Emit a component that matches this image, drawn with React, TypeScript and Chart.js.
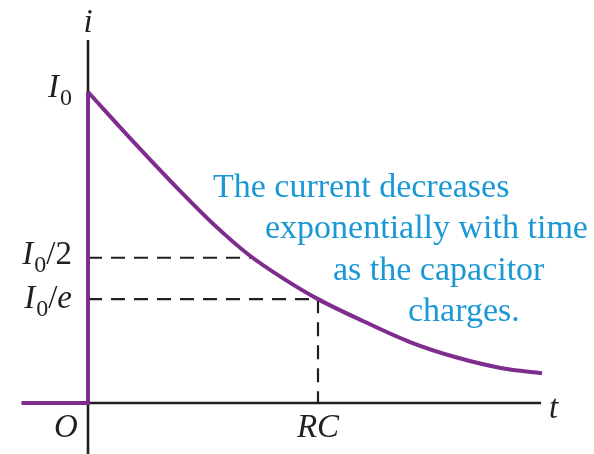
import React, { useEffect, useRef } from "react";
import { Chart, registerables } from "chart.js";

Chart.register(...registerables);

// time in units of RC, current in units of I0
const preChargeTime = [-0.289, 0, 0];
const preChargeCurrent = [0, 0, 1];

const timeRC = [0, 0.2, 0.4, 0.55, 0.7, 0.85, 1.0, 1.2, 1.4, 1.6, 1.8, 1.974];
const currentI0 = [1, 0.838, 0.682, 0.572, 0.476, 0.4, 0.334, 0.262, 0.196, 0.147, 0.112, 0.096];

const halfLevel = 0.467;
const halfTime = 0.717;
const eLevel = 0.334;
const rcTime = 1;

const yTickLabels = [
  { value: 1, suffix: "", sufItalic: false },
  { value: halfLevel, suffix: "/2", sufItalic: false },
  { value: eLevel, suffix: "/e", sufItalic: true },
];
const annotationLines = [
  "The current decreases",
  "exponentially with time",
  "as the capacitor",
  "charges.",
];

const PURPLE = "#7e2c8e";
const INK = "#231f20";
const BLUE = "#1a98d5";
const SERIF = "'Liberation Serif', 'Times New Roman', serif";

const axesPlugin = {
  id: "axesPlugin",
  beforeDatasetsDraw(chart: any) {
    const { ctx, scales } = chart;
    const x = scales.x, y = scales.y;
    ctx.save();
    ctx.strokeStyle = INK;
    ctx.lineWidth = 2.6;
    ctx.beginPath();
    ctx.moveTo(x.getPixelForValue(-0.048), y.getPixelForValue(0));
    ctx.lineTo(x.getPixelForValue(1.97), y.getPixelForValue(0));
    ctx.moveTo(x.getPixelForValue(0), y.getPixelForValue(1.167));
    ctx.lineTo(x.getPixelForValue(0), chart.height);
    ctx.stroke();
    ctx.restore();
  },
  afterDatasetsDraw(chart: any) {
    const { ctx, scales } = chart;
    const x = scales.x, y = scales.y;
    ctx.save();
    ctx.fillStyle = INK;
    ctx.textBaseline = "alphabetic";
    const big = 33, small = 24;
    const offsets = [5, 6, 9];
    yTickLabels.forEach((t, i) => {
      const base = y.getPixelForValue(t.value) + offsets[i];
      ctx.font = `italic ${big}px ${SERIF}`;
      const wI = ctx.measureText("I").width;
      ctx.font = `${small}px ${SERIF}`;
      const w0 = ctx.measureText("0").width;
      let wS = 0, wSlash = 0, wRest = 0;
      if (t.suffix) {
        ctx.font = `${big}px ${SERIF}`;
        wSlash = ctx.measureText("/").width;
        ctx.font = `${t.sufItalic ? "italic " : ""}${big}px ${SERIF}`;
        wRest = ctx.measureText(t.suffix.slice(1)).width;
        wS = wSlash + wRest;
      }
      const right = 72;
      let cx = right - (wI + w0 + 1 + wS);
      ctx.font = `italic ${big}px ${SERIF}`;
      ctx.fillText("I", cx, base);
      cx += wI + 1;
      ctx.font = `${small}px ${SERIF}`;
      ctx.fillText("0", cx, base + 8);
      cx += w0;
      if (t.suffix) {
        ctx.font = `${big}px ${SERIF}`;
        ctx.fillText("/", cx, base);
        cx += wSlash;
        ctx.font = `${t.sufItalic ? "italic " : ""}${big}px ${SERIF}`;
        ctx.fillText(t.suffix.slice(1), cx, base);
      }
    });
    ctx.font = `italic ${big}px ${SERIF}`;
    ctx.textAlign = "center";
    ctx.fillText("O", 66, 437);
    ctx.fillText("RC", x.getPixelForValue(rcTime), 437);
    ctx.fillText("i", x.getPixelForValue(0), 32);
    ctx.textAlign = "left";
    ctx.fillText("t", 549, 418);

    ctx.fillStyle = BLUE;
    ctx.font = `34px ${SERIF}`;
    const lefts = [213, 265, 333, 408];
    const bases = [197, 238, 280, 321];
    annotationLines.forEach((s, i) => ctx.fillText(s, lefts[i], bases[i]));
    ctx.restore();
  },
};

const bgPlugin = {
  id: "bg",
  beforeDraw(chart: any) {
    const c = chart.ctx;
    c.save();
    c.fillStyle = "#ffffff";
    c.fillRect(0, 0, chart.width, chart.height);
    c.restore();
  },
};

export default function App() {
  const ref = useRef<HTMLCanvasElement>(null);
  useEffect(() => {
    if (!ref.current) return;
    const dash = [14, 9];
    const chart = new Chart(ref.current, {
      type: "line",
      data: {
        datasets: [
          {
            data: [
              { x: 0, y: halfLevel },
              { x: halfTime, y: halfLevel },
            ],
            borderColor: INK,
            borderWidth: 2.2,
            borderDash: dash,
            pointRadius: 0,
            tension: 0,
            order: 3,
          },
          {
            data: [
              { x: 0, y: eLevel },
              { x: rcTime, y: eLevel },
              { x: rcTime, y: 0 },
            ],
            borderColor: INK,
            borderWidth: 2.2,
            borderDash: dash,
            pointRadius: 0,
            tension: 0,
            order: 3,
          },
          {
            data: preChargeTime.map((t, i) => ({ x: t, y: preChargeCurrent[i] })),
            borderColor: PURPLE,
            borderWidth: 4,
            pointRadius: 0,
            tension: 0,
            borderJoinStyle: "miter",
            order: 1,
          },
          {
            data: timeRC.map((t, i) => ({ x: t, y: currentI0[i] })),
            borderColor: PURPLE,
            borderWidth: 4,
            pointRadius: 0,
            cubicInterpolationMode: "monotone",
            borderCapStyle: "butt",
            order: 1,
          },
        ],
      },
      options: {
        animation: false,
        responsive: false,
        maintainAspectRatio: false,
        devicePixelRatio: 1,
        layout: { padding: 0 },
        plugins: { legend: { display: false }, tooltip: { enabled: false } },
        events: [],
        scales: {
          x: { type: "linear", min: -88 / 230, max: (594 - 88) / 230, display: false },
          y: { type: "linear", min: -(454 - 403) / 311, max: 403 / 311, display: false },
        },
      },
      plugins: [bgPlugin, axesPlugin],
    } as any);
    return () => chart.destroy();
  }, []);
  return (
    <div style={{ position: "fixed", left: 0, top: 0, width: 594, height: 454, background: "#fff" }}>
      <canvas ref={ref} width={594} height={454} style={{ display: "block" }} />
    </div>
  );
}
